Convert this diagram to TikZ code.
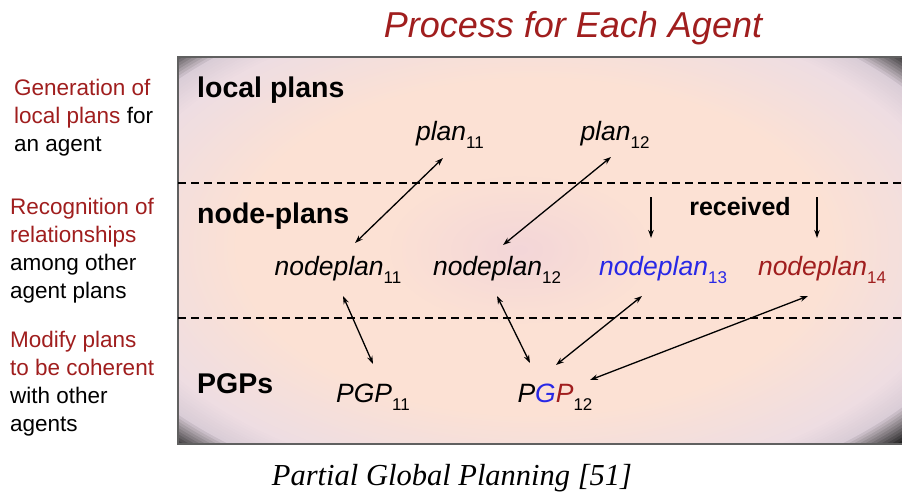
\documentclass[tikz,border=0pt]{standalone}
\usepackage{fontspec}
\setmainfont{Liberation Sans}
\newfontfamily\capfont{Liberation Serif}
\usetikzlibrary{arrows.meta}
\definecolor{dred}{RGB}{160,30,30}
\definecolor{nblue}{RGB}{40,40,230}
\definecolor{cpink}{RGB}{243,214,216}
\definecolor{cpeach}{RGB}{252,225,212}
\definecolor{cedge}{RGB}{238,221,226}
\definecolor{cgray}{RGB}{218,205,215}
\definecolor{cdark}{RGB}{35,35,35}
\newcommand{\subs}[1]{\raisebox{-0.3em}{\fontsize{17}{17}\selectfont\upshape #1}}
\tikzset{
  lvl/.style={font=\fontsize{28.5}{30}\selectfont\bfseries, anchor=west, inner sep=0pt},
  pl/.style={font=\fontsize{26.5}{28}\selectfont\itshape, inner sep=0pt},
  side/.style={font=\fontsize{22.5}{28}\selectfont, anchor=north west, align=left, inner sep=0pt},
  arr/.style={line width=1.3pt, -{Stealth[length=8pt,width=5.5pt]}},
  darr/.style={line width=1.3pt, {Stealth[length=8pt,width=5.5pt]}-{Stealth[length=8pt,width=5.5pt]}},
  sep/.style={line width=1.8pt, dash pattern=on 8pt off 5pt}
}
\begin{document}
\begin{tikzpicture}[x=1pt,y=-1pt]
\useasboundingbox (0,0) rectangle (902,496);
\fill[white] (0,0) rectangle (902,496);
% panel with vignette
\begin{scope}
\clip (178,57) rectangle (902,444);
\fill[cdark] (178,57) rectangle (902,444);
\foreach \i in {0,...,11}{
  \pgfmathsetmacro\t{1.33-\i*0.01}
  \pgfmathsetmacro\p{\i/11*100}
  \pgfmathsetmacro\rx{\t*380}\pgfmathsetmacro\ry{\t*215}
  \fill[cgray!\p!cdark] (535,247) ellipse [x radius=\rx pt, y radius=\ry pt];
}
\foreach \i in {1,...,10}{
  \pgfmathsetmacro\t{1.22-\i*0.01}
  \pgfmathsetmacro\p{\i/10*100}
  \pgfmathsetmacro\rx{\t*380}\pgfmathsetmacro\ry{\t*215}
  \fill[cedge!\p!cgray] (535,247) ellipse [x radius=\rx pt, y radius=\ry pt];
}
\foreach \i in {1,...,34}{
  \pgfmathsetmacro\t{1.12-\i*0.01}
  \pgfmathsetmacro\p{\i/34*100}
  \pgfmathsetmacro\rx{\t*380}\pgfmathsetmacro\ry{\t*215}
  \fill[cpeach!\p!cedge] (535,247) ellipse [x radius=\rx pt, y radius=\ry pt];
}
\foreach \i in {1,...,35}{
  \pgfmathsetmacro\t{0.36-\i*0.01}
  \pgfmathsetmacro\p{\i/35*100}
  \pgfmathsetmacro\rx{\t*380}\pgfmathsetmacro\ry{\t*215}
  \fill[cpink!\p!cpeach] (520,250) ellipse [x radius=\rx pt, y radius=\ry pt];
}
\end{scope}
\draw[gray!75!black, line width=2pt] (902,57) -- (178,57) -- (178,444) -- (902,444);
\draw[sep] (178,183) -- (902,183);
\draw[sep] (178,318) -- (902,318);
% title and caption
\node[font=\fontsize{36}{40}\selectfont\itshape, text=dred, inner sep=0pt] (title) at (573,28) {Process for Each Agent};
\node[font=\capfont\fontsize{30.5}{34}\selectfont\itshape, inner sep=0pt] (cap) at (452,478) {Partial Global Planning [51]};
% side texts
\node[side] (s1) at (14,79) {\textcolor{dred}{Generation of}\\\textcolor{dred}{local plans} for\\an agent};
\node[side] (s2) at (10,198) {\textcolor{dred}{Recognition of}\\\textcolor{dred}{relationships}\\among other\\agent plans};
\node[side] (s3) at (10,331) {\textcolor{dred}{Modify plans}\\\textcolor{dred}{to be coherent}\\with other\\agents};
% level labels
\node[lvl] (l1) at (197,90) {local plans};
\node[lvl] (l2) at (197,216) {node-plans};
\node[lvl] (l3) at (197,384) {PGPs};
\node[font=\fontsize{25}{28}\selectfont\bfseries, inner sep=0pt] (rec) at (740,207) {received};
% plan nodes
\node[pl] (p11) at (450,135) {plan\subs{11}};
\node[pl] (p12) at (615,135) {plan\subs{12}};
\node[pl] (n11) at (338,270) {nodeplan\subs{11}};
\node[pl] (n12) at (497,270) {nodeplan\subs{12}};
\node[pl, text=nblue] (n13) at (663,270) {nodeplan\subs{13}};
\node[pl, text=dred] (n14) at (822,270) {nodeplan\subs{14}};
\node[pl] (g11) at (373,397) {PGP\subs{11}};
\node[pl] (g12) at (555,397) {P\textcolor{nblue}{G}\textcolor{dred}{P}\subs{12}};
\coordinate (r13) at (651,197);
\coordinate (r14) at (817,197);
% connectors
\draw[darr] ([shift={(-7,23)}]p11.center) -- ([shift={(17,-27)}]n11.center);
\draw[darr] ([shift={(-4,22)}]p12.center) -- ([shift={(6,-25)}]n12.center);
\draw[arr] (r13) -- ([shift={(-12,-32)}]n13.center);
\draw[arr] (r14) -- ([shift={(-5,-32)}]n14.center);
\draw[darr] ([shift={(5,26)}]n11.center) -- ([shift={(0,-33)}]g11.center);
\draw[darr] ([shift={(0,26)}]n12.center) -- ([shift={(-25,-34)}]g12.center);
\draw[darr] ([shift={(-21,26)}]n13.center) -- ([shift={(1,-32)}]g12.center);
\draw[darr] ([shift={(-14,26)}]n14.center) -- ([shift={(35,-17)}]g12.center);
\end{tikzpicture}
\end{document}
